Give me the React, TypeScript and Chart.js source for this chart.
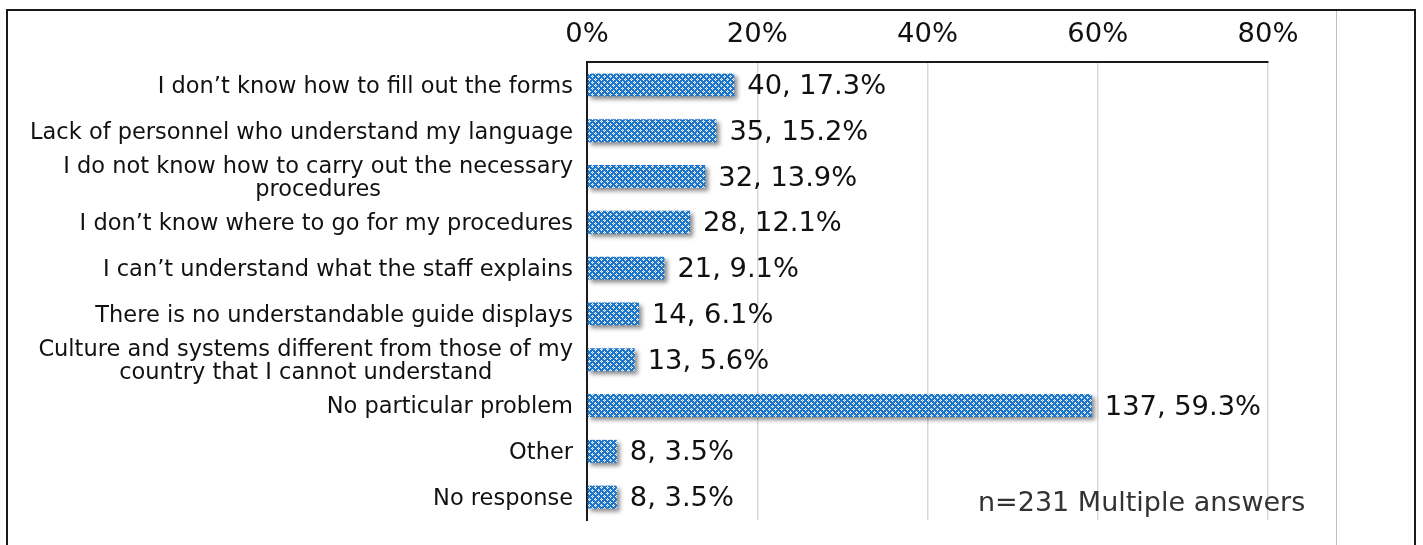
import React, { useEffect, useRef } from 'react';
import { Chart, registerables } from 'chart.js';
Chart.register(...registerables);

const categories: (string | string[])[] = [
  'I don’t know how to fill out the forms',
  'Lack of personnel who understand my language',
  ['I do not know how to carry out the necessary', 'procedures'],
  'I don’t know where to go for my procedures',
  'I can’t understand what the staff explains',
  'There is no understandable guide displays',
  ['Culture and systems different from those of my', 'country that I cannot understand'],
  'No particular problem',
  'Other',
  'No response',
];
const counts = [40, 35, 32, 28, 21, 14, 13, 137, 8, 8];
const percents = [17.3, 15.2, 13.9, 12.1, 9.1, 6.1, 5.6, 59.3, 3.5, 3.5];
const xTickValues = [0, 20, 40, 60, 80];
const noteText = 'n=231 Multiple answers';

const FONT = '"DejaVu Sans", "Noto Sans", sans-serif';

function fitSize(text: string, targetWidth: number): number {
  const c = document.createElement('canvas');
  const g = c.getContext('2d');
  if (!g) return 18;
  g.font = `20px ${FONT}`;
  const w = g.measureText(text).width;
  return Math.round((20 * targetWidth / w) * 10) / 10;
}

function makePattern(): CanvasPattern | string {
  const c = document.createElement('canvas');
  c.width = 6;
  c.height = 6;
  const g = c.getContext('2d');
  if (!g) return '#1a73c8';
  g.fillStyle = '#1c76cc';
  g.fillRect(0, 0, 6, 6);
  g.fillStyle = '#ffffff';
  const pts = [
    [1, 0], [0, 1], [2, 1], [1, 2],
    [4, 3], [3, 4], [5, 4], [4, 5],
  ];
  pts.forEach(([x, y]) => g.fillRect(x, y, 1, 1));
  g.fillStyle = 'rgba(255,255,255,0.45)';
  g.fillRect(1, 1, 1, 1);
  g.fillRect(4, 4, 1, 1);
  const p = g.createPattern(c, 'repeat');
  return p || '#1a73c8';
}

export default function App() {
  const ref = useRef<HTMLCanvasElement | null>(null);

  useEffect(() => {
    if (!ref.current) return;
    const ctx0 = ref.current.getContext('2d');
    const pattern = makePattern();

    const catSize = fitSize('I don’t know how to fill out the forms', 415);
    const valSize = fitSize('40, 17.3%', 139);
    const tickSize = fitSize('80%', 61);
    const noteSize = fitSize(noteText, 327);

    const framePlugin = {
      id: 'frame',
      beforeDraw(chart: any) {
        const ctx = chart.ctx;
        ctx.save();
        ctx.fillStyle = '#ffffff';
        ctx.fillRect(0, 0, chart.width, chart.height);
        ctx.strokeStyle = '#bfbfbf';
        ctx.lineWidth = 1;
        ctx.beginPath();
        ctx.moveTo(1336.5, 10);
        ctx.lineTo(1336.5, chart.height);
        ctx.stroke();
        ctx.strokeStyle = '#1a1a1a';
        ctx.lineWidth = 2;
        ctx.beginPath();
        ctx.moveTo(7, chart.height);
        ctx.lineTo(7, 10);
        ctx.lineTo(1415, 10);
        ctx.lineTo(1415, chart.height);
        ctx.stroke();
        ctx.restore();
      },
    };

    const shadowPlugin = {
      id: 'barShadow',
      beforeDatasetDraw(chart: any) {
        const ctx = chart.ctx;
        ctx.save();
        ctx.shadowColor = 'rgba(0,0,0,0.45)';
        ctx.shadowBlur = 4;
        ctx.shadowOffsetX = 3;
        ctx.shadowOffsetY = 3;
      },
      afterDatasetDraw(chart: any) {
        chart.ctx.restore();
      },
    };

    const labelsPlugin = {
      id: 'labels',
      afterDraw(chart: any) {
        const ctx = chart.ctx;
        const yScale = chart.scales.y;
        ctx.save();
        ctx.font = `${catSize}px ${FONT}`;
        ctx.fillStyle = '#111111';
        ctx.textBaseline = 'middle';
        const rightX = 573;
        const lh = 23;
        categories.forEach((lab, i) => {
          const yc = yScale.getPixelForValue(i) + 2;
          const lines = Array.isArray(lab) ? lab : [lab];
          const widths = lines.map((l) => ctx.measureText(l).width);
          const maxW = Math.max(...widths);
          const blockCenter = rightX - maxW / 2;
          lines.forEach((l, k) => {
            const y = yc + (k - (lines.length - 1) / 2) * lh;
            ctx.textAlign = 'center';
            ctx.fillText(l, blockCenter, y);
          });
        });
        ctx.font = `${valSize}px ${FONT}`;
        ctx.fillStyle = '#111111';
        ctx.textAlign = 'left';
        const meta = chart.getDatasetMeta(0);
        meta.data.forEach((bar: any, i: number) => {
          ctx.fillText(`${counts[i]}, ${percents[i].toFixed(1)}%`, bar.x + 13, bar.y + 2);
        });
        ctx.font = `${noteSize}px ${FONT}`;
        ctx.fillStyle = '#333333';
        ctx.textAlign = 'left';
        ctx.fillText(noteText, 978, 504);
        ctx.restore();
      },
    };

    const chart = new Chart(ctx0 as any, {
      type: 'bar',
      data: {
        labels: categories.map((c) => (Array.isArray(c) ? c.join(' ') : c)),
        datasets: [
          {
            data: percents,
            backgroundColor: pattern as any,
            borderWidth: 0,
            barPercentage: 0.5,
            categoryPercentage: 1,
          },
        ],
      },
      options: {
        indexAxis: 'y',
        animation: false,
        responsive: true,
        maintainAspectRatio: false,
        layout: { padding: { left: 0, top: 0, right: 1423 - 1268, bottom: 545 - 520 } },
        plugins: {
          legend: { display: false },
          tooltip: { enabled: false },
        },
        scales: {
          x: {
            position: 'top',
            min: 0,
            max: 80,
            afterBuildTicks(scale: any) {
              scale.ticks = xTickValues.map((v) => ({ value: v }));
            },
            afterFit(scale: any) {
              scale.height = 62;
            },
            ticks: {
              font: { size: tickSize, family: FONT },
              color: '#111111',
              padding: 11,
              callback: (v: any) => `${v}%`,
            },
            grid: {
              color: '#d9d9d9',
              lineWidth: 1.5,
              drawTicks: false,
            },
            border: { display: true, color: '#1a1a1a', width: 2 },
          },
          y: {
            type: 'category',
            ticks: { display: false },
            afterFit(scale: any) {
              scale.width = 587;
            },
            grid: { display: false, drawTicks: false },
            border: { display: true, color: '#1a1a1a', width: 2 },
          },
        },
      },
      plugins: [framePlugin, shadowPlugin, labelsPlugin],
    } as any);

    return () => chart.destroy();
  }, []);

  return (
    <div style={{ position: 'absolute', left: 0, top: 0, width: 1423, height: 545 }}>
      <canvas ref={ref} />
    </div>
  );
}
